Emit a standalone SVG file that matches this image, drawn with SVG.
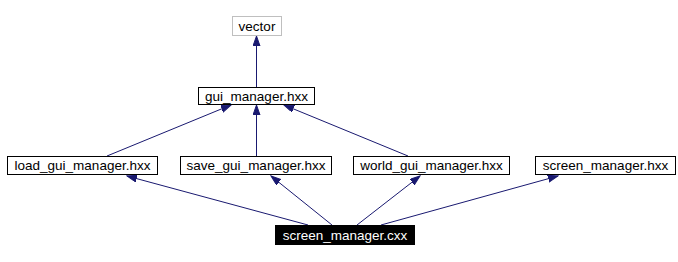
<svg xmlns="http://www.w3.org/2000/svg" width="678" height="262" viewBox="0 0 678 262">
<style>
  .box { fill: #ffffff; stroke: #000000; stroke-width: 1; }
  .gbox { fill: #ffffff; stroke: #bfbfbf; stroke-width: 1; }
  .dbox { fill: #000000; stroke: #000000; stroke-width: 1; }
  .lbl { font-family: "Liberation Sans", Arial, Helvetica, sans-serif; font-size: 13.5px; text-anchor: middle; fill: #000000; }
  .wlbl { fill: #ffffff; }
  .edge { stroke: #191970; stroke-width: 1; fill: none; marker-end: url(#arr); }
</style>
<defs>
  <marker id="arr" markerUnits="userSpaceOnUse" markerWidth="11" markerHeight="8" refX="10" refY="3.5" orient="auto">
    <path d="M0,0 L10,3.5 L0,7 z" fill="#191970" stroke="#191970" stroke-width="1"/>
  </marker>
</defs>
<rect width="678" height="262" fill="#ffffff"/>
<g id="edges">
  <line class="edge" x1="256.5" y1="87" x2="256.5" y2="36"/>
  <line class="edge" x1="107" y1="156" x2="231" y2="105"/>
  <line class="edge" x1="256.5" y1="156" x2="256.5" y2="105"/>
  <line class="edge" x1="408" y1="156" x2="284" y2="105"/>
  <line class="edge" x1="308" y1="225" x2="127" y2="176"/>
  <line class="edge" x1="332" y1="225" x2="271" y2="176"/>
  <line class="edge" x1="357" y1="225" x2="420" y2="176"/>
  <line class="edge" x1="381" y1="225" x2="558" y2="176"/>
</g>
<g id="vector">
  <rect class="gbox" x="232.5" y="16.5" width="49" height="19"/>
  <text class="lbl" x="257" y="30.5">vector</text>
</g>
<g id="gui_manager_hxx">
  <rect class="box" x="198.5" y="87.5" width="116" height="17"/>
  <text class="lbl" x="256.5" y="100.5">gui_manager.hxx</text>
</g>
<g id="load_gui_manager_hxx">
  <rect class="box" x="7.5" y="156.5" width="150" height="18"/>
  <text class="lbl" x="82.5" y="170">load_gui_manager.hxx</text>
</g>
<g id="save_gui_manager_hxx">
  <rect class="box" x="180.5" y="156.5" width="151" height="18"/>
  <text class="lbl" x="256" y="170">save_gui_manager.hxx</text>
</g>
<g id="world_gui_manager_hxx">
  <rect class="box" x="353.5" y="156.5" width="156" height="18"/>
  <text class="lbl" x="431.5" y="170">world_gui_manager.hxx</text>
</g>
<g id="screen_manager_hxx">
  <rect class="box" x="535.5" y="156.5" width="140" height="18"/>
  <text class="lbl" x="605.5" y="170">screen_manager.hxx</text>
</g>
<g id="screen_manager_cxx">
  <rect class="dbox" x="275.5" y="225.5" width="139" height="19"/>
  <text class="lbl wlbl" x="345" y="239.5">screen_manager.cxx</text>
</g>
</svg>
